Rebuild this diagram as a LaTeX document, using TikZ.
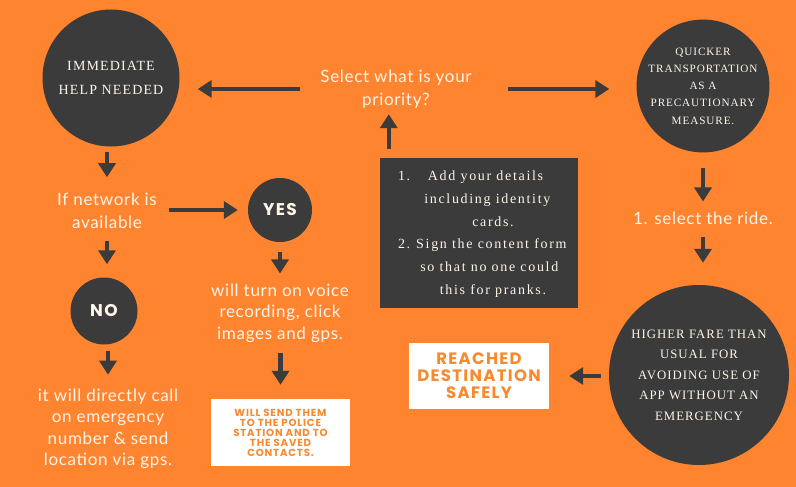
\documentclass[tikz,border=0pt]{standalone}
\usepackage{fontspec,array,xcolor,tikz}
\usetikzlibrary{arrows.meta,positioning}
\setmainfont{Liberation Serif}
\newfontfamily\capsfont[LetterSpace=8]{Liberation Serif}
\newfontfamily\listfont[LetterSpace=12]{Liberation Serif}
\newfontfamily\plainfont[LetterSpace=4]{Lato}
\newfontfamily\headfont[LetterSpace=8]{Poppins}
\definecolor{bgorange}{HTML}{FF8430}
\definecolor{darkgrey}{HTML}{3B3B3B}
\definecolor{cream}{HTML}{FFF4E8}
\definecolor{txtorange}{HTML}{F7892F}
\begin{document}
\begin{tikzpicture}[x=1pt,y=-1pt,
    main/.style = {circle, fill=darkgrey, text=cream, inner sep=0pt, align=center},
    plain/.style = {text=cream, inner sep=0pt, align=center, font=\plainfont\fontsize{17}{22.5}\selectfont},
    card/.style = {fill=white, text=txtorange, inner sep=0pt, align=center},
    flow/.style = {-{Triangle[width=17pt,length=14pt]}, line width=4.5pt, draw=darkgrey}]
    \fill[bgorange] (0,0) rectangle (796,487);
    \node[main, minimum size=137pt, font=\capsfont\fontsize{14}{24}\selectfont] (1) at (111,78) {IMMEDIATE\\HELP NEEDED};
    \node[plain] (2) at (396,89) {Select what is your\\priority?};
    \node[main, minimum size=130pt, font=\capsfont\fontsize{11.2}{17.3}\selectfont] (3) at (703,86) {QUICKER\\TRANSPORTATION\\AS A\\PRECAUTIONARY\\MEASURE.};
    \node[fill=darkgrey, text=cream, minimum width=198pt, minimum height=150pt, inner sep=0pt, font=\listfont\fontsize{14}{22.8}\selectfont] (4) at (479,233)
        {\begin{tabular}{@{\hspace{18pt}}p{12pt}@{\hspace{3pt}}>{\centering\arraybackslash}p{160pt}@{\hspace{5pt}}}
         1. & Add your details\newline including identity\newline cards.\\
         2. & Sign the content form\newline so that no one could\newline this for pranks.
         \end{tabular}};
    \node[plain] (5) at (703,218) {1. select the ride.};
    \node[main, minimum size=180pt, font=\capsfont\fontsize{12.8}{20.5}\selectfont] (6) at (699,375) {HIGHER FARE THAN\\USUAL FOR\\AVOIDING USE OF\\APP WITHOUT AN\\EMERGENCY};
    \node[card, minimum width=140pt, minimum height=66pt, font=\headfont\bfseries\fontsize{16.5}{17}\selectfont] (7) at (479,376) {REACHED\\DESTINATION\\SAFELY};
    \node[plain] (8) at (107,211) {If network is\\available};
    \node[main, minimum size=64pt, font=\headfont\bfseries\fontsize{17}{17}\selectfont] (9) at (280,210) {YES};
    \node[main, minimum size=67pt, font=\headfont\bfseries\fontsize{17}{17}\selectfont] (10) at (104,311) {NO};
    \node[plain, font=\plainfont\fontsize{17}{21.5}\selectfont] (11) at (108,429) {it will directly call\\on emergency\\number \& send\\location via gps.};
    \node[plain, font=\plainfont\fontsize{17}{21.5}\selectfont] (12) at (280,313) {will turn on voice\\recording, click\\images and gps.};
    \node[card, minimum width=139pt, minimum height=67pt, font=\headfont\bfseries\fontsize{10.2}{10}\selectfont] (13) at (280.5,432.5) {WILL SEND THEM\\TO THE POLICE\\STATION AND TO\\THE SAVED\\CONTACTS.};
    % connectors
    \draw[flow, shorten <=20pt, shorten >=18pt] (2.west) -- (1.east |- 2.west);
    \draw[flow, shorten <=36pt, shorten >=27pt] (2.east) -- (3.west |- 2.east);
    \draw[flow, shorten <=9pt, shorten >=6pt] ([xshift=9pt]4.north west) -- ([xshift=9pt]4.north west |- 2.south);
    \draw[flow, shorten <=15pt, shorten >=10pt] (3.south) -- (5.north);
    \draw[flow, shorten <=12pt, shorten >=22pt] ([xshift=4pt]6.north |- 5.south) -- ([xshift=4pt]6.north);
    \draw[flow, shorten <=8pt, shorten >=20pt] (6.west |- 7.east) -- (7.east);
    \draw[flow, shorten <=5pt, shorten >=16pt] ([xshift=-4pt]1.south) -- ([xshift=-4pt]1.south |- 8.north);
    \draw[flow, shorten <=12pt, shorten >=10pt] (8.east |- 9.west) -- (9.west);
    \draw[flow, shorten <=12pt, shorten >=13pt] (8.south) -- (8.south |- 10.north);
    \draw[flow, shorten <=6pt, shorten >=14pt] (10.south -| 11.north) -- (11.north);
    \draw[flow, shorten <=10pt, shorten >=10pt] (9.south) -- (12.north);
    \draw[flow, shorten <=10pt, shorten >=14pt] (13.north |- 12.south) -- (13.north);
\end{tikzpicture}
\end{document}
